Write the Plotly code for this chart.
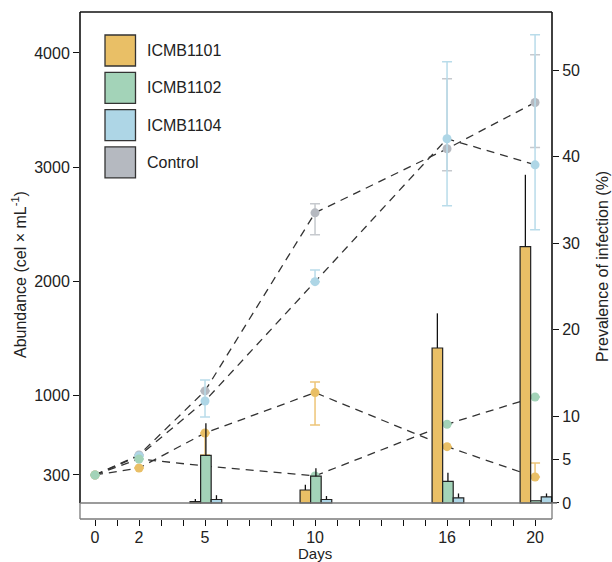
import plotly.graph_objects as go

# ---------------- data ----------------
days = [0, 2, 5, 10, 16, 20]
bar_days = [5, 10, 16, 20]
names = ["ICMB1101", "ICMB1102", "ICMB1104", "Control"]

# abundance (cells x mL-1), left axis
abund_1101 = [300, 361, 668, 1022, 548, 282]
abund_1101_up = [0, 0, 0, 93, 0, 123]
abund_1101_dn = [0, 0, 193, 284, 0, 0]

abund_1102 = [300, 440, 379, 292, 745, 984]
abund_1102_up = [0, 0, 0, 0, 0, 0]
abund_1102_dn = [0, 0, 0, 0, 0, 0]

abund_1104 = [300, 467, 949, 1995, 3248, 3019]
abund_1104_up = [0, 0, 184, 103, 675, 1140]
abund_1104_dn = [0, 0, 140, 0, 588, 570]

abund_ctrl = [300, 475, 1037, 2598, 3160, 3566]
abund_ctrl_up = [0, 0, 0, 79, 614, 418]
abund_ctrl_dn = [0, 0, 0, 193, 193, 395]

# prevalence of infection (%), right axis
prev_1101 = [0.15, 1.5, 17.9, 29.6]
prev_1101_err = [0.3, 0.6, 4.0, 8.3]
prev_1102 = [5.5, 3.1, 2.5, 0.26]
prev_1102_err = [3.7, 0.9, 1.0, 0.0]
prev_1104 = [0.4, 0.4, 0.6, 0.7]
prev_1104_err = [0.5, 0.4, 0.5, 0.4]

left_ticks = [300, 1000, 2000, 3000, 4000]
right_ticks = [0, 5, 10, 20, 30, 40, 50]
x_label_days = [0, 2, 5, 10, 16, 20]

# ---------------- style ----------------
C = {"ICMB1101": "#E9BF66", "ICMB1102": "#A3D3B8", "ICMB1104": "#AED6E6", "Control": "#B5B9C0"}
EC = {"ICMB1101": "#EDC578", "ICMB1102": "#A3D3B8", "ICMB1104": "#B9DCEA", "Control": "#C6C9CE"}
FONT = "Liberation Sans, Arial, Helvetica, sans-serif"
FS = 16

W, H = 612, 562
L, R, T, B = 80, 552, 12, 519          # plot area in page pixels
x_range = [-0.682, 20.77]
y_range = [-86, 4359]
y2_range = [-1.85, 56.7]


def px(xp):
    return (xp - L) / (R - L)


def py(yp):
    return (B - yp) / (B - T)


fig = go.Figure()

abund = {
    "ICMB1101": (abund_1101, abund_1101_up, abund_1101_dn),
    "ICMB1102": (abund_1102, abund_1102_up, abund_1102_dn),
    "ICMB1104": (abund_1104, abund_1104_up, abund_1104_dn),
    "Control": (abund_ctrl, abund_ctrl_up, abund_ctrl_dn),
}
for nm in ["Control", "ICMB1104", "ICMB1101", "ICMB1102"]:
    vals, up, dn = abund[nm]
    fig.add_trace(go.Scatter(
        x=days, y=vals, mode="lines+markers", name=nm, showlegend=False,
        line=dict(color="#333333", width=1.3, dash="8px,6px"),
        marker=dict(color=C[nm], size=9),
        error_y=dict(type="data", symmetric=False, array=up, arrayminus=dn,
                     color=EC[nm], thickness=1.5, width=5),
        yaxis="y", cliponaxis=False,
    ))

bars = [
    ("ICMB1101", prev_1101, prev_1101_err, -0.68),
    ("ICMB1102", prev_1102, prev_1102_err, -0.20),
    ("ICMB1104", prev_1104, prev_1104_err, 0.28),
]
for nm, vals, err, off in bars:
    fig.add_trace(go.Bar(
        x=bar_days, y=vals, name=nm, showlegend=False, yaxis="y2",
        width=0.48, offset=off,
        marker=dict(color=C[nm], line=dict(color="#222222", width=1.2)),
        error_y=dict(type="data", symmetric=False, array=err,
                     arrayminus=[0] * len(err), color="#111111",
                     thickness=1.3, width=0),
    ))

shapes = []
zero_p = (0 - y2_range[0]) / (y2_range[1] - y2_range[0])
# black frame above zero line
for (x0, y0, x1, y1) in [(0, zero_p, 0, 1), (0, 1, 1, 1), (1, zero_p, 1, 1)]:
    shapes.append(dict(type="line", xref="paper", yref="paper", x0=x0, y0=y0, x1=x1, y1=y1,
                       line=dict(color="#111111", width=1.6)))
# gray strip below zero line
for (x0, y0, x1, y1) in [(0, zero_p, px(557), zero_p), (0, 0, 1, 0), (0, 0, 0, zero_p), (1, 0, 1, zero_p)]:
    shapes.append(dict(type="line", xref="paper", yref="paper", x0=x0, y0=y0, x1=x1, y1=y1,
                       line=dict(color="#7a7a7a", width=1.3)))

# legend (manual large swatches)
annotations = []
for i, nm in enumerate(names):
    top = 35 + 37.3 * i
    shapes.append(dict(type="rect", xref="paper", yref="paper",
                       x0=px(105), x1=px(135.5), y0=py(top + 31), y1=py(top),
                       fillcolor=C[nm], line=dict(color="#333333", width=1.3)))
    annotations.append(dict(text=nm, xref="paper", yref="paper", x=px(145), y=py(top + 15.5),
                            xanchor="left", yanchor="middle", showarrow=False,
                            font=dict(family=FONT, size=FS, color="#222222")))

annotations.append(dict(text="Abundance (cel × mL<sup>-1</sup>)", xref="paper", yref="paper",
                        x=px(19), y=py(275), textangle=-90, showarrow=False,
                        xanchor="center", yanchor="middle",
                        font=dict(family=FONT, size=FS, color="#222222")))
annotations.append(dict(text="Prevalence of infection (%)", xref="paper", yref="paper",
                        x=px(602), y=py(267), textangle=-90, showarrow=False,
                        xanchor="center", yanchor="middle",
                        font=dict(family=FONT, size=FS, color="#222222")))
annotations.append(dict(text="Days", xref="paper", yref="paper",
                        x=px(315), y=py(563), showarrow=False,
                        xanchor="center", yanchor="bottom", borderpad=0,
                        font=dict(family=FONT, size=15, color="#222222")))

tick_vals_x = list(range(0, 21))
tick_text_x = [str(d) if d in x_label_days else "" for d in tick_vals_x]

fig.update_layout(
    width=W, height=H,
    margin=dict(l=L, r=W - R, t=T, b=H - B, pad=0),
    paper_bgcolor="white", plot_bgcolor="white",
    barmode="overlay",
    showlegend=False,
    font=dict(family=FONT, size=FS, color="#222222"),
    xaxis=dict(range=x_range, showgrid=False, zeroline=False, showline=False,
               tickmode="array", tickvals=tick_vals_x, ticktext=tick_text_x,
               ticks="outside", ticklen=6, tickwidth=1.3, tickcolor="#111111",
               ticklabelstandoff=-2,
               tickfont=dict(size=FS, color="#222222"), automargin=False),
    yaxis=dict(range=y_range, showgrid=False, zeroline=False, showline=False,
               tickmode="array", tickvals=left_ticks,
               ticks="outside", ticklen=6, tickwidth=1.3, tickcolor="#111111",
               tickfont=dict(size=FS, color="#222222"), automargin=False),
    yaxis2=dict(range=y2_range, overlaying="y", side="right", showgrid=False,
                zeroline=False, showline=False,
                tickmode="array", tickvals=right_ticks,
                ticks="outside", ticklen=6, tickwidth=1.3, tickcolor="#111111",
                tickfont=dict(size=FS, color="#222222"), automargin=False),
    shapes=shapes,
    annotations=annotations,
)

fig.write_html(
    "out.html",
    config={"displayModeBar": False},
    post_script="document.body.style.margin='0';document.body.style.overflow='hidden';",
)
